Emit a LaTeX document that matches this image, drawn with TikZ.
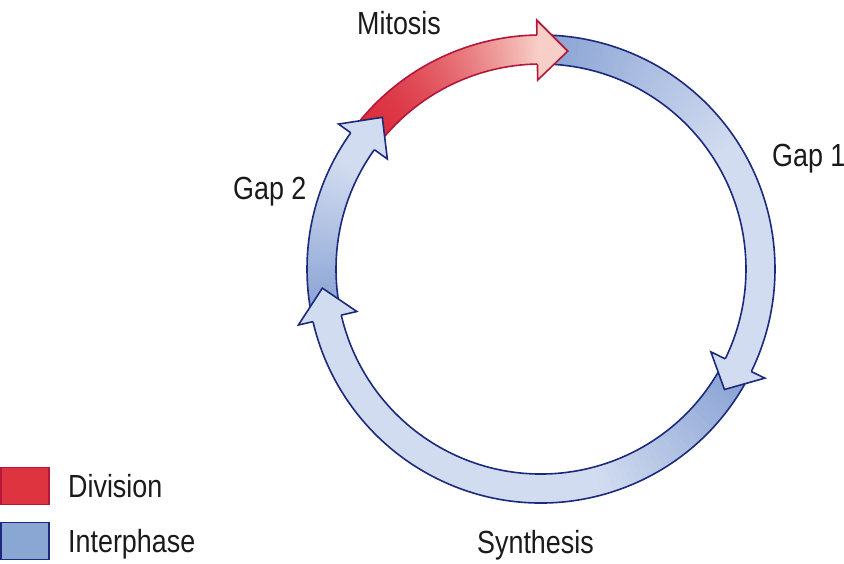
\documentclass[tikz,border=0pt]{standalone}
\usepackage{fontspec}
\setmainfont{Liberation Sans}[FakeStretch=0.84]
\definecolor{bdark}{HTML}{8BA4D5}
\definecolor{blight}{HTML}{D2DCF0}
\definecolor{bline}{HTML}{1C2A7C}
\definecolor{rdark}{HTML}{DB2E3E}
\definecolor{rlight}{HTML}{F7CFC6}
\definecolor{rline}{HTML}{B5173A}
\definecolor{legred}{HTML}{DE3440}
\definecolor{legblue}{HTML}{8AA6D3}
\definecolor{txt}{HTML}{1A1A1A}
\def\rOut{234}\def\rIn{205}\def\rMid{219.5}\def\rHo{249}\def\rHi{189}
% #1 start angle, #2 head-base angle, #3 dark, #4 light, #5 fade span, #6 outline, #7 fade exponent
\newcommand{\ringbody}[7]{%
  \foreach \k in {0,...,89}{%
    \pgfmathsetmacro{\angA}{#1+(#2-#1)*\k/90}%
    \pgfmathsetmacro{\angB}{#1+(#2-#1)*(\k+1.6)/90}%
    \pgfmathsetmacro{\fracT}{min(abs(\angA-#1)/#5,1)}%
    \pgfmathsetmacro{\pct}{100*(1-\fracT^#7)}%
    \fill[#3!\pct!#4] (\angA:\rOut) arc[start angle=\angA, end angle=\angB, radius=\rOut]
      -- (\angB:\rIn) arc[start angle=\angB, end angle=\angA, radius=\rIn] -- cycle;
  }%
  \draw[outl, #6] (#1:\rOut) arc[start angle=#1, end angle=#2, radius=\rOut];
  \draw[outl, #6] (#1:\rIn) arc[start angle=#1, end angle=#2, radius=\rIn];
}
% #1 head-base angle, #2 tip angle, #3 fill, #4 outline
\newcommand{\ringhead}[4]{%
  \fill[#3] (#1:\rHo) -- (#2:\rMid) -- (#1:\rHi) -- cycle;
  \draw[outl, #4] (#1:\rOut) -- (#1:\rHo) -- (#2:\rMid) -- (#1:\rHi) -- (#1:\rIn);
}
\begin{document}
\begin{tikzpicture}[x=1pt, y=1pt,
  outl/.style={line width=1.6pt, line join=miter},
  lbl/.style={font=\fontsize{32}{38}\selectfont, text=txt, inner sep=0pt, anchor=base west},
  legbox/.style={minimum width=48pt, minimum height=37pt, inner sep=0pt, line width=1.6pt}]
\useasboundingbox (0,0) rectangle (844,563);
\begin{scope}[shift={(541,294)}]
  % bodies
  \ringbody{142}{91}{rdark}{rlight}{51}{rline}{1.6}
  \ringbody{88}{-26}{bdark}{blight}{55}{bline}{1}
  \ringbody{-29}{-167}{bdark}{blight}{45}{bline}{1}
  \ringbody{190}{144.4}{bdark}{blight}{38}{bline}{1}
  % heads
  \ringhead{91}{83}{rlight}{rline}
  \ringhead{-26}{-33.3}{blight}{bline}
  \ringhead{-167}{-175}{blight}{bline}
  \ringhead{144.4}{136.3}{blight}{bline}
\end{scope}
% labels
\node[lbl] (mitosis) at (357,528) {Mitosis};
\node[lbl] (gap1) at (772,396) {Gap 1};
\node[lbl] (gap2) at (233,363) {Gap 2};
\node[lbl] (synth) at (477,10) {Synthesis};
% legend
\node[legbox, fill=legred, draw=rline] (divbox) at (25,77) {};
\node[legbox, fill=legblue, draw=bline] (intbox) at (25,22) {};
\node[lbl] (divtext) at (68,66) {Division};
\node[lbl] (inttext) at (68,11) {Interphase};
\end{tikzpicture}
\end{document}
